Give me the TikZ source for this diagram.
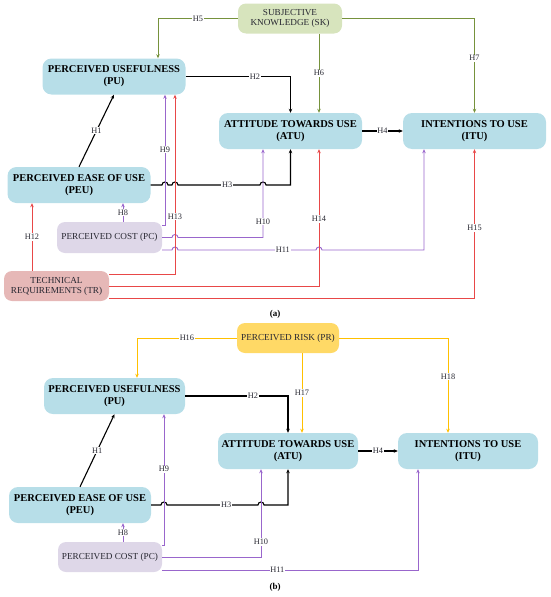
\documentclass[tikz,border=0pt]{standalone}
\usepackage{fontspec}
\setmainfont{Liberation Serif}
\usepackage{tikz}
\usetikzlibrary{positioning}
\usetikzlibrary{arrows.meta}

\definecolor{cajaazul}{RGB}{183,222,232}
\definecolor{cajaverde}{RGB}{215,228,189}
\definecolor{cajalila}{RGB}{222,215,232}
\definecolor{cajarosa}{RGB}{230,184,183}
\definecolor{cajaoro}{RGB}{255,217,102}
\definecolor{lineaoliva}{RGB}{118,146,60}
\definecolor{linealila}{RGB}{153,102,204}
\definecolor{linearoja}{RGB}{232,72,72}
\definecolor{lineaoro}{RGB}{255,192,0}
\definecolor{textohip}{RGB}{40,40,50}

\begin{document}
\begin{tikzpicture}[x=1pt, y=1pt,
  constructo/.style={fill=cajaazul, rounded corners=9pt, minimum width=143pt, minimum height=36pt, inner sep=0pt, align=center, font=\fontsize{10.5}{12}\selectfont\bfseries},
  externo/.style={rounded corners=8pt, minimum width=104pt, minimum height=30pt, inner sep=0pt, align=center, font=\fontsize{9.2}{10}\selectfont, text=textohip},
  hip/.style={fill=white, text=textohip, inner sep=0.8pt, font=\fontsize{8.3}{9}\selectfont},
  flecha/.style={line width=0.9pt, -{Stealth[length=4pt, width=3.5pt]}},
  negra/.style={flecha, black, line width=1.1pt},
  oliva/.style={flecha, lineaoliva},
  lila/.style={flecha, linealila},
  roja/.style={flecha, linearoja},
  oro/.style={flecha, lineaoro}]
  \useasboundingbox (0,0) rectangle (550,-597);

  % Nodos (a)
  \node[externo, fill=cajaverde] (sk) at (290,-18.5) {SUBJECTIVE\\KNOWLEDGE (SK)};
  \node[constructo] (pu) at (114,-76.5) {PERCEIVED USEFULNESS\\(PU)};
  \node[constructo] (atu) at (290.5,-131) {ATTITUDE TOWARDS USE\\(ATU)};
  \node[constructo] (itu) at (474.5,-131) {INTENTIONS TO USE\\(ITU)};
  \node[constructo] (peu) at (79,-185) {PERCEIVED EASE OF USE\\(PEU)};
  \node[externo, fill=cajalila, minimum width=105pt, minimum height=31pt] (pc) at (109.5,-237.5) {PERCEIVED COST (PC)};
  \node[externo, fill=cajarosa, minimum width=105pt] (tr) at (56.5,-286) {TECHNICAL\\REQUIREMENTS (TR)};
  \node[font=\fontsize{9}{10}\selectfont\bfseries] (capa) at (275,-314) {(a)};

  % Canales (a)
  \coordinate (v5) at (158,0);
  \coordinate (v8) at (123,0);
  \coordinate (v9) at (165,0);
  \coordinate (v13) at (175,0);
  \coordinate (v10) at (263,0);
  \coordinate (v14) at (319,0);
  \coordinate (v11) at (424,0);
  \coordinate (v12) at (32,0);
  \coordinate (pc9) at ([yshift=12.5pt]pc.east);
  \coordinate (pc11) at ([yshift=-12.5pt]pc.east);
  \coordinate (tr13) at ([yshift=12pt]tr.east);
  \coordinate (tr15) at ([yshift=-12pt]tr.east);

  % Aristas (a)
  \draw[oliva] (sk.west) -- node[hip]{H5} (v5 |- sk.west) -- (v5 |- pu.north);
  \draw[oliva] (v14 |- sk.south) -- node[hip]{H6} (v14 |- atu.north);
  \draw[oliva] (sk.east) -| node[hip, pos=0.71]{H7} (itu.north);
  \draw[negra] (pu.east) -- node[hip, pos=0.66]{H2} (atu.north |- pu.east) -- (atu.north);
  \draw[negra] (atu.east) -- node[hip]{H4} (itu.west);
  \draw[negra] (peu.north) -- node[hip]{H1} (pu.south);
  \draw[negra] (peu.east) -- ([xshift=-3pt]v9 |- peu.east) arc[start angle=180, end angle=0, radius=3pt]
    -- ([xshift=-3pt]v13 |- peu.east) arc[start angle=180, end angle=0, radius=3pt]
    -- node[hip, pos=0.6]{H3} ([xshift=-3pt]v10 |- peu.east) arc[start angle=180, end angle=0, radius=3pt]
    -- (atu.south |- peu.east) -- (atu.south);
  \draw[lila] (v8 |- pc.north) -- node[hip]{H8} (v8 |- peu.south);
  \draw[lila] (pc9) -| node[hip, pos=0.79]{H9} (v9 |- pu.south);
  \draw[lila] (pc.east) -- ([xshift=-3pt]v13 |- pc.east) arc[start angle=180, end angle=0, radius=3pt]
    -| node[hip, pos=0.59]{H10} (v10 |- atu.south);
  \draw[lila] (pc11) -- ([xshift=-3pt]v13 |- pc11) arc[start angle=180, end angle=0, radius=3pt]
    -- node[hip, pos=0.76]{H11} ([xshift=-3pt]v14 |- pc11) arc[start angle=180, end angle=0, radius=3pt]
    -| (v11 |- itu.south);
  \draw[roja] (v12 |- tr.north) -- node[hip]{H12} (v12 |- peu.south);
  \draw[roja] (tr13) -| node[hip, pos=0.66]{H13} (v13 |- pu.south);
  \draw[roja] (tr.east) -| node[hip, pos=0.745]{H14} (v14 |- atu.south);
  \draw[roja] (tr15) -| node[hip, pos=0.735]{H15} (itu.south);

  % Nodos (b)
  \node[externo, fill=cajaoro, minimum width=102pt] (pr) at (288,-338) {PERCEIVED RISK (PR)};
  \node[constructo, minimum width=141pt] (pu2) at (114.5,-396) {PERCEIVED USEFULNESS\\(PU)};
  \node[constructo, minimum width=140pt] (atu2) at (288,-451) {ATTITUDE TOWARDS USE\\(ATU)};
  \node[constructo, minimum width=140pt] (itu2) at (468,-451) {INTENTIONS TO USE\\(ITU)};
  \node[constructo, minimum width=142pt] (peu2) at (80,-505) {PERCEIVED EASE OF USE\\(PEU)};
  \node[externo, fill=cajalila] (pc2) at (110,-557) {PERCEIVED COST (PC)};
  \node[font=\fontsize{9}{10}\selectfont\bfseries] (capb) at (275,-587) {(b)};

  % Canales (b)
  \coordinate (w16) at (137,0);
  \coordinate (w17) at (302,0);
  \coordinate (w18) at (448,0);
  \coordinate (w9) at (164,0);
  \coordinate (w10) at (261,0);
  \coordinate (w11) at (418,0);
  \coordinate (pc29) at ([yshift=12pt]pc2.east);
  \coordinate (pc211) at ([yshift=-13pt]pc2.east);

  % Aristas (b)
  \draw[oro] (pr.west) -- node[hip]{H16} (w16 |- pr.west) -- (w16 |- pu2.north);
  \draw[oro] (w17 |- pr.south) -- node[hip]{H17} (w17 |- atu2.north);
  \draw[oro] (pr.east) -| node[hip, pos=0.705]{H18} (w18 |- itu2.north);
  \draw[negra] (pu2.east) -- node[hip, pos=0.66]{H2} (atu2.north |- pu2.east) -- (atu2.north);
  \draw[negra] (atu2.east) -- node[hip]{H4} (itu2.west);
  \draw[negra] (peu2.north) -- node[hip]{H1} (pu2.south);
  \draw[negra] (peu2.east) -- ([xshift=-3pt]w9 |- peu2.east) arc[start angle=180, end angle=0, radius=3pt]
    -- node[hip, pos=0.65]{H3} ([xshift=-3pt]w10 |- peu2.east) arc[start angle=180, end angle=0, radius=3pt]
    -- (atu2.south |- peu2.east) -- (atu2.south);
  \draw[lila] (v8 |- pc2.north) -- node[hip]{H8} (v8 |- peu2.south);
  \draw[lila] (pc29) -| node[hip, pos=0.79]{H9} (w9 |- pu2.south);
  \draw[lila] (pc2.east) -| node[hip, pos=0.585]{H10} (w10 |- atu2.south);
  \draw[lila] (pc211) -| node[hip, pos=0.225]{H11} (w11 |- itu2.south);
\end{tikzpicture}
\end{document}
